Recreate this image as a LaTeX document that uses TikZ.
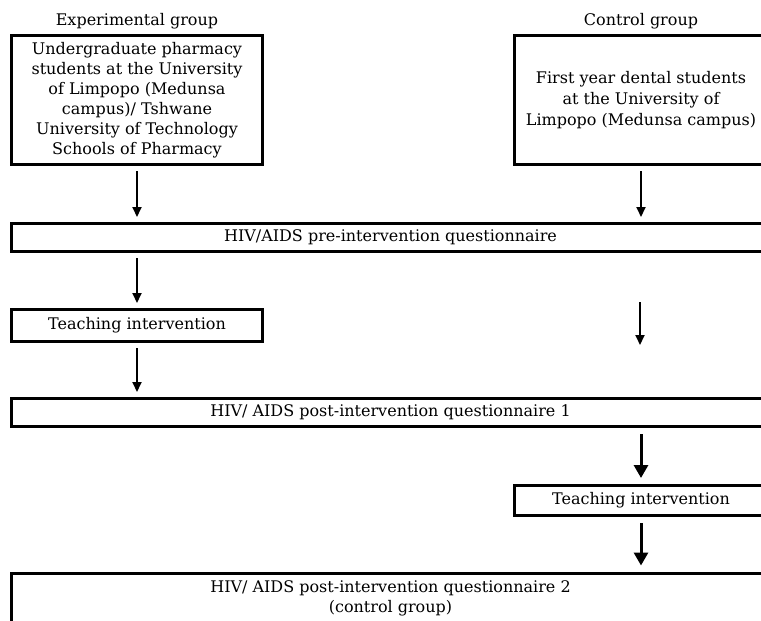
\documentclass[tikz,border=0pt]{standalone}
\usepackage{fontspec}
\setmainfont{DejaVu Serif}
\usetikzlibrary{arrows.meta,positioning}

\begin{document}
\begin{tikzpicture}[x=1pt, y=-1pt,
  box/.style={draw, line width=3pt, inner sep=0pt, align=center, font=\fontsize{16}{20}\selectfont},
  lab/.style={font=\fontsize{16}{20}\selectfont},
  arr/.style={-{Triangle[length=10pt,width=9pt]}, line width=2pt, shorten <=5pt, shorten >=5pt},
  arrbig/.style={-{Triangle[length=13pt,width=14pt]}, line width=3pt, shorten <=6pt, shorten >=6pt}]
\useasboundingbox (0,0) rectangle (761,621);

% Gruppi
\node[lab] (explab) at (137,21) {Experimental group};
\node[lab] (ctllab) at (641,21) {Control group};
\node[box, minimum width=251pt, minimum height=129pt] (exp) at (137,100)
  {Undergraduate pharmacy\\students at the University\\of Limpopo (Medunsa\\campus)/ Tshwane\\University of Technology\\Schools of Pharmacy};
\node[box, minimum width=253pt, minimum height=129pt, font=\fontsize{16}{21}\selectfont] (ctl) at (641,100)
  {First year dental students\\at the University of\\Limpopo (Medunsa campus)};

% Questionari e interventi
\node[box, minimum width=758pt, minimum height=28pt] (pre) at (390.5,237.5) {HIV/AIDS pre-intervention questionnaire};
\node[box, minimum width=251pt, minimum height=32pt] (teachexp) at (137,325.5) {Teaching intervention};
\node[box, minimum width=758pt, minimum height=28pt] (post1) at (390.5,412.5) {HIV/ AIDS post-intervention questionnaire 1};
\node[box, minimum width=253pt, minimum height=30pt] (teachctl) at (641,500.5) {Teaching intervention};
\node[box, minimum width=758pt, minimum height=50pt] (post2) at (390.5,598) {HIV/ AIDS post-intervention questionnaire 2\\(control group)};

% Frecce
\coordinate (ctlfrom) at (640,302);
\coordinate (ctlto) at (640,345);
\draw[arr] (exp.south) -- (exp.south |- pre.north);
\draw[arr] (ctl.south) -- (ctl.south |- pre.north);
\draw[arr] (exp.south |- pre.south) -- (teachexp.north);
\draw[arr, shorten <=0pt, shorten >=0pt] (ctlfrom) -- (ctlto);
\draw[arr] (teachexp.south) -- (teachexp.south |- post1.north);
\draw[arrbig] (teachctl.north |- post1.south) -- (teachctl.north);
\draw[arrbig] (teachctl.south) -- (teachctl.south |- post2.north);

\end{tikzpicture}
\end{document}
